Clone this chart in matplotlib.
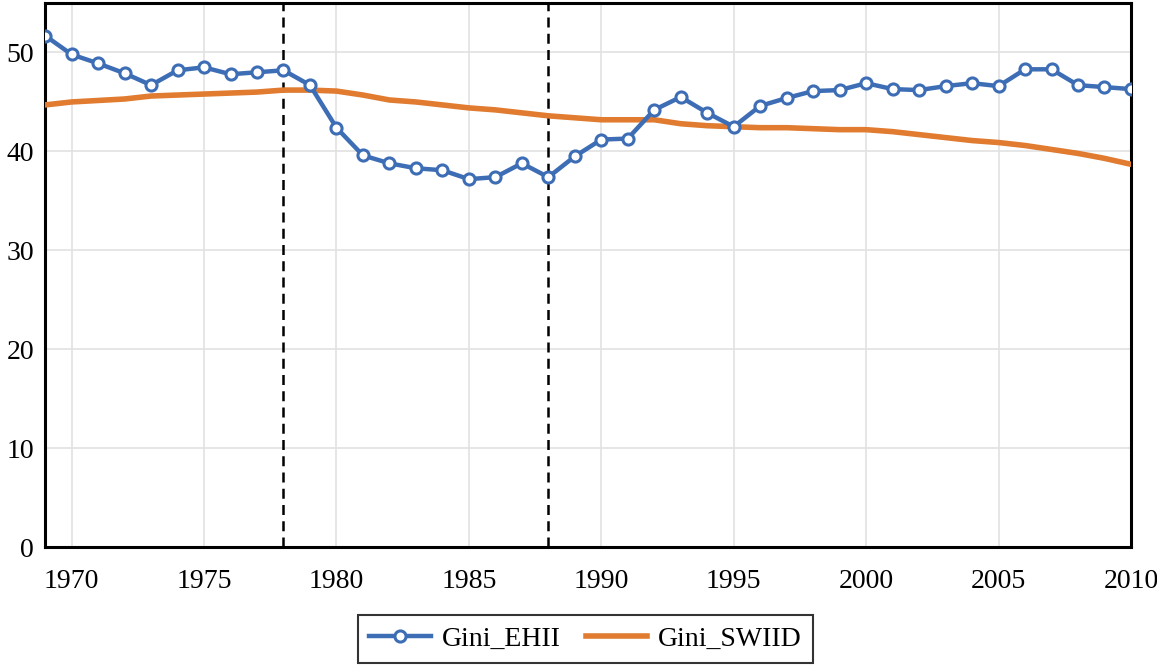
import numpy as np
import matplotlib
matplotlib.use("Agg")
import matplotlib.pyplot as plt

plt.rcParams['font.family'] = ['Liberation Serif', 'DejaVu Serif']

years = list(range(1969, 2011))
gini_ehii = [51.7, 49.8, 48.9, 47.9, 46.7, 48.2, 48.5, 47.8, 48.0, 48.2,
             46.7, 42.4, 39.6, 38.8, 38.3, 38.1, 37.2, 37.4, 38.8, 37.4,
             39.5, 41.2, 41.3, 44.2, 45.5, 43.9, 42.5, 44.6, 45.4, 46.1,
             46.2, 46.9, 46.3, 46.2, 46.6, 46.9, 46.6, 48.3, 48.3, 46.7,
             46.5, 46.3]
gini_swiid = [44.7, 45.0, 45.15, 45.3, 45.6, 45.7, 45.8, 45.9, 46.0, 46.2,
              46.2, 46.1, 45.7, 45.2, 45.0, 44.7, 44.4, 44.2, 43.9, 43.6,
              43.4, 43.2, 43.2, 43.2, 42.8, 42.6, 42.5, 42.4, 42.4, 42.3,
              42.2, 42.2, 42.0, 41.7, 41.4, 41.1, 40.9, 40.6, 40.2, 39.8,
              39.3, 38.7]
break_years = [1978, 1988]

fig = plt.figure(figsize=(11.57, 6.69), dpi=100)
ax = fig.add_axes([0.039, 0.182, 0.9385, 0.8135])

ax.plot(years, gini_ehii, color='#3D6DB5', lw=3.2, marker='o', ms=8,
        mfc='white', mec='#3D6DB5', mew=2.2, label='Gini_EHII', zorder=4)
ax.plot(years, gini_swiid, color='#E07B30', lw=4, label='Gini_SWIID', zorder=3)

for yr in break_years:
    ax.axvline(yr, color='black', lw=1.8, ls=(0, (4, 2.5)), zorder=2)

ax.set_xlim(1969, 2010)
ax.set_ylim(0, 55)
ax.set_xticks(range(1970, 2011, 5))
ax.set_yticks(range(0, 51, 10))
ax.grid(True, color='#e2e2e2', lw=1.2, zorder=0)
ax.set_axisbelow(True)
ax.tick_params(length=0, labelsize=20)
ax.tick_params(axis='x', pad=16)
ax.tick_params(axis='y', pad=8)
for s in ax.spines.values():
    s.set_linewidth(2.2)
    s.set_color('black')

leg = fig.legend(loc='lower center', bbox_to_anchor=(0.506, -0.012), ncol=2,
                 fontsize=20, frameon=True, fancybox=False, edgecolor='black',
                 handlelength=2.2, columnspacing=0.9, borderpad=0.4,
                 handletextpad=0.4)
leg.get_frame().set_linewidth(1.5)

fig.savefig('out.png', dpi=100)
